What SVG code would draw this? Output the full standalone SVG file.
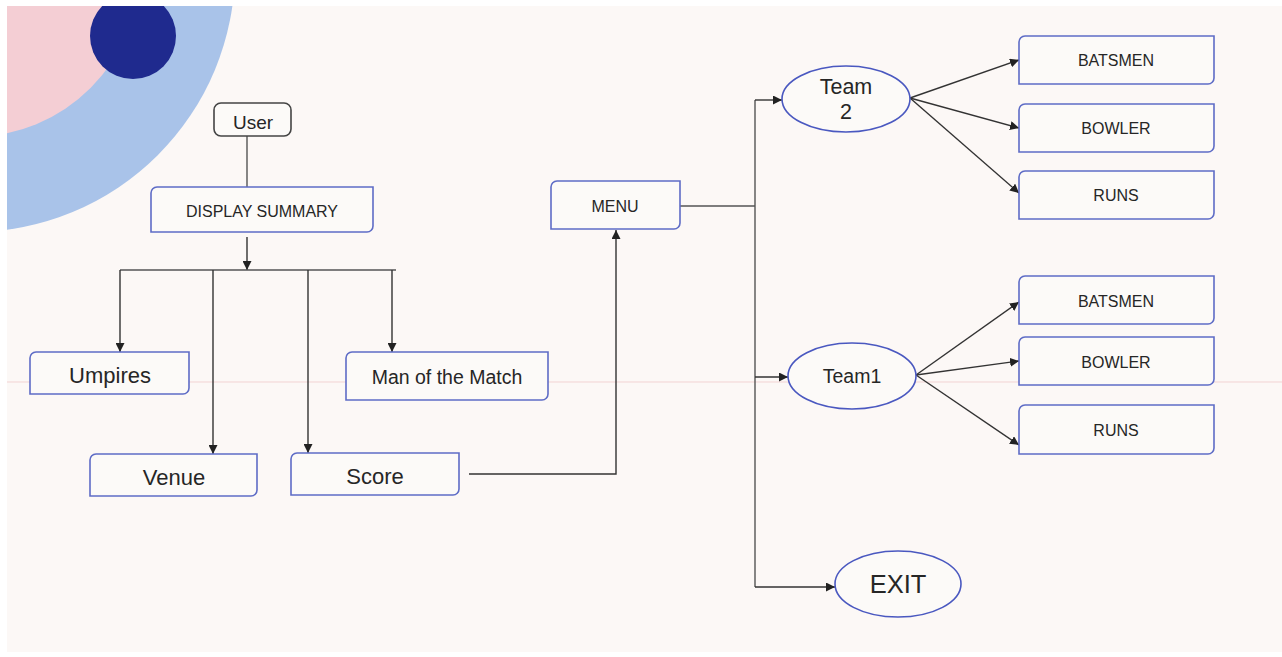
<svg xmlns="http://www.w3.org/2000/svg" width="1282" height="657" viewBox="0 0 1282 657">
  <defs>
    <marker id="arr" viewBox="0 0 10 10" refX="10" refY="5" markerWidth="9" markerHeight="9" markerUnits="userSpaceOnUse" orient="auto">
      <path d="M0,0 L10,5 L0,10 z" fill="#222"/>
    </marker>
    <clipPath id="page">
      <rect x="7" y="6" width="1275" height="646"/>
    </clipPath>
    <style>
      .box { fill: #fcfaf8; stroke: #5e6cc6; stroke-width: 1.6; }
      .ell { fill: #fcfaf8; stroke: #4a58c0; stroke-width: 1.6; }
      .user { fill: #fcfaf8; stroke: #444; stroke-width: 1.6; }
      .lbl { font-family: "Liberation Sans", Arial, sans-serif; fill: #262626; text-anchor: middle; dominant-baseline: central; }
      .cap { font-size: 16px; }
      .mid { font-size: 19.5px; }
      .big { font-size: 22px; }
      .wire { fill: none; stroke: #555; stroke-width: 1.4; }
      .arrow { fill: none; stroke: #333; stroke-width: 1.4; marker-end: url(#arr); }
    </style>
  </defs>

  <!-- page -->
  <rect x="0" y="0" width="1282" height="657" fill="#ffffff"/>
  <rect x="7" y="6" width="1275" height="646" fill="#fcf8f6"/>

  <!-- corner ornament -->
  <g id="ornament" clip-path="url(#page)">
    <circle cx="-28" cy="-31" r="263" fill="#a9c3e9"/>
    <circle cx="-28" cy="-31" r="168" fill="#f4ced4"/>
    <circle cx="133" cy="36" r="43" fill="#1f2a8e"/>
  </g>

  <!-- faint guide line -->
  <line x1="7" y1="382" x2="1282" y2="382" stroke="#f2d3d3" stroke-width="1"/>

  <!-- connectors -->
  <g id="connectors">
    <line class="wire" x1="247" y1="136" x2="247" y2="187" stroke="#777"/>
    <line class="arrow" x1="247" y1="237" x2="247" y2="270"/>
    <line class="wire" x1="120" y1="270" x2="396" y2="270"/>
    <line class="arrow" x1="120" y1="270" x2="120" y2="352"/>
    <line class="arrow" x1="213" y1="270" x2="213" y2="454"/>
    <line class="arrow" x1="308" y1="270" x2="308" y2="453"/>
    <line class="arrow" x1="392" y1="270" x2="392" y2="352"/>
    <path class="arrow" d="M469,474 H616 V230"/>
    <line class="wire" x1="680" y1="206" x2="755" y2="206"/>
    <line class="wire" x1="755" y1="100" x2="755" y2="587"/>
    <line class="arrow" x1="755" y1="100" x2="782" y2="100"/>
    <line class="arrow" x1="755" y1="377" x2="788" y2="377"/>
    <line class="arrow" x1="755" y1="587" x2="835" y2="587"/>
    <line class="arrow" x1="910" y1="98" x2="1019" y2="60"/>
    <line class="arrow" x1="910" y1="98" x2="1019" y2="128"/>
    <line class="arrow" x1="910" y1="98" x2="1019" y2="193"/>
    <line class="arrow" x1="916" y1="375" x2="1019" y2="302"/>
    <line class="arrow" x1="916" y1="375" x2="1019" y2="361"/>
    <line class="arrow" x1="916" y1="375" x2="1019" y2="445"/>
  </g>

  <!-- nodes -->
  <g id="user">
    <rect class="user" x="214" y="103" width="77" height="33" rx="7"/>
    <text class="lbl" x="253" y="122" font-size="19">User</text>
  </g>
  <g id="display-summary">
    <path class="box" d="M157,187 H373 V226 A6,6 0 0 1 367,232 H151 V193 A6,6 0 0 1 157,187 z"/>
    <text class="lbl cap" x="262" y="211">DISPLAY SUMMARY</text>
  </g>
  <g id="umpires">
    <path class="box" d="M36,352 H189 V388 A6,6 0 0 1 183,394 H30 V358 A6,6 0 0 1 36,352 z"/>
    <text class="lbl big" x="110" y="375">Umpires</text>
  </g>
  <g id="man-of-the-match">
    <path class="box" d="M352,352 H548 V394 A6,6 0 0 1 542,400 H346 V358 A6,6 0 0 1 352,352 z"/>
    <text class="lbl mid" x="447" y="377">Man of the Match</text>
  </g>
  <g id="venue">
    <path class="box" d="M96,454 H257 V490 A6,6 0 0 1 251,496 H90 V460 A6,6 0 0 1 96,454 z"/>
    <text class="lbl big" x="174" y="477">Venue</text>
  </g>
  <g id="score">
    <path class="box" d="M297,453 H459 V489 A6,6 0 0 1 453,495 H291 V459 A6,6 0 0 1 297,453 z"/>
    <text class="lbl big" x="375" y="476">Score</text>
  </g>
  <g id="menu">
    <path class="box" d="M557,181 H680 V223 A6,6 0 0 1 674,229 H551 V187 A6,6 0 0 1 557,181 z"/>
    <text class="lbl cap" x="615" y="206">MENU</text>
  </g>
  <g id="team2">
    <ellipse class="ell" cx="846" cy="99" rx="64" ry="33"/>
    <text class="lbl" x="846" y="87" font-size="21.5">Team</text>
    <text class="lbl" x="846" y="112" font-size="21.5">2</text>
  </g>
  <g id="team1">
    <ellipse class="ell" cx="852" cy="376" rx="64" ry="33"/>
    <text class="lbl mid" x="852" y="376">Team1</text>
  </g>
  <g id="exit">
    <ellipse class="ell" cx="898" cy="584" rx="63" ry="33"/>
    <text class="lbl" x="898" y="584" font-size="25.5">EXIT</text>
  </g>

  <g id="team2-batsmen">
    <path class="box" d="M1025,36 H1214 V78 A6,6 0 0 1 1208,84 H1019 V42 A6,6 0 0 1 1025,36 z"/>
    <text class="lbl cap" x="1116" y="60">BATSMEN</text>
  </g>
  <g id="team2-bowler">
    <path class="box" d="M1025,104 H1214 V146 A6,6 0 0 1 1208,152 H1019 V110 A6,6 0 0 1 1025,104 z"/>
    <text class="lbl cap" x="1116" y="128">BOWLER</text>
  </g>
  <g id="team2-runs">
    <path class="box" d="M1025,171 H1214 V213 A6,6 0 0 1 1208,219 H1019 V177 A6,6 0 0 1 1025,171 z"/>
    <text class="lbl cap" x="1116" y="195">RUNS</text>
  </g>
  <g id="team1-batsmen">
    <path class="box" d="M1025,276 H1214 V318 A6,6 0 0 1 1208,324 H1019 V282 A6,6 0 0 1 1025,276 z"/>
    <text class="lbl cap" x="1116" y="301">BATSMEN</text>
  </g>
  <g id="team1-bowler">
    <path class="box" d="M1025,337 H1214 V379 A6,6 0 0 1 1208,385 H1019 V343 A6,6 0 0 1 1025,337 z"/>
    <text class="lbl cap" x="1116" y="362">BOWLER</text>
  </g>
  <g id="team1-runs">
    <path class="box" d="M1025,405 H1214 V448 A6,6 0 0 1 1208,454 H1019 V411 A6,6 0 0 1 1025,405 z"/>
    <text class="lbl cap" x="1116" y="430">RUNS</text>
  </g>
</svg>
